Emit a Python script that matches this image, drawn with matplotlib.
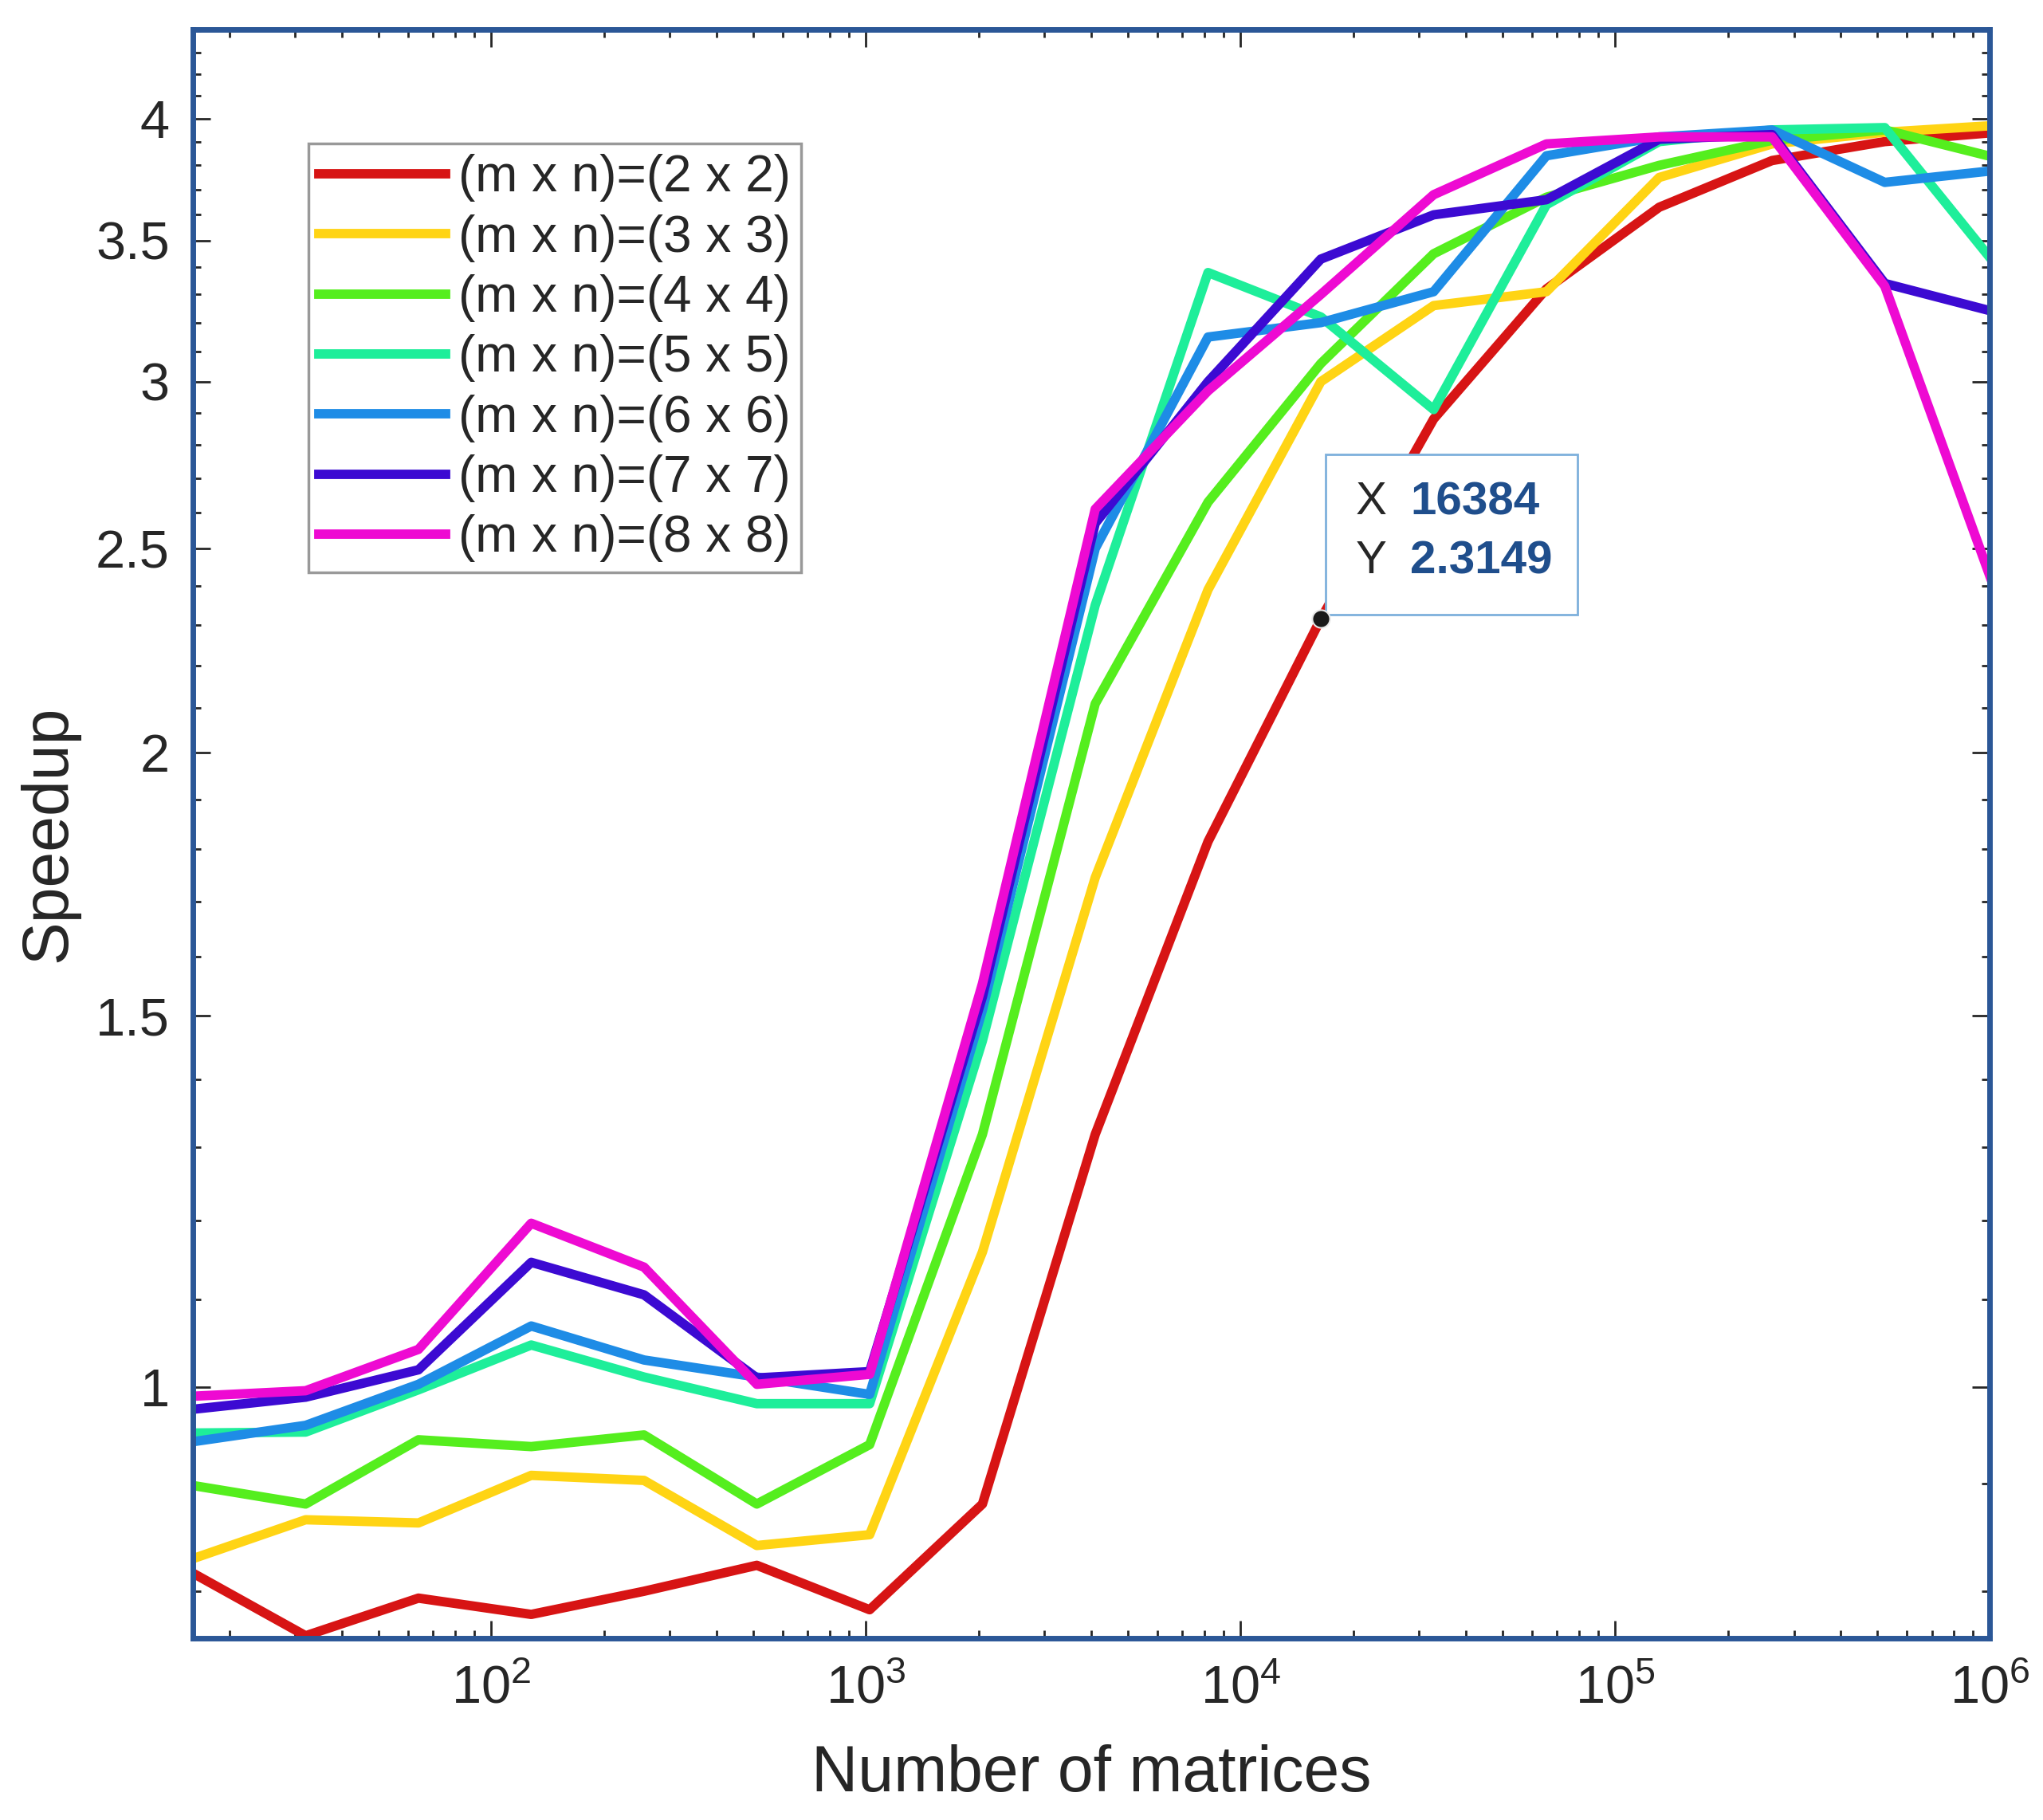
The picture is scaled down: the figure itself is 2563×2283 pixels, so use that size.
import numpy as np
import matplotlib.pyplot as plt
from matplotlib.ticker import FixedLocator, NullFormatter, LogLocator
from matplotlib.transforms import IdentityTransform
from matplotlib.patches import Rectangle

plt.rcParams['font.family'] = ['Liberation Sans', 'DejaVu Sans']
plt.rcParams['mathtext.fontset'] = 'custom'
plt.rcParams['mathtext.rm'] = 'Liberation Sans'
plt.rcParams['mathtext.default'] = 'regular'

# nombre de matrices : 2^4 ... 2^20
n_matrices = 2 ** np.arange(4, 21)

speedup_2x2 = [0.816, 0.762, 0.794, 0.780, 0.800, 0.823, 0.784, 0.880, 1.318, 1.815,
               2.3149, 2.88, 3.32, 3.63, 3.82, 3.90, 3.94]
speedup_3x3 = [0.829, 0.865, 0.862, 0.908, 0.903, 0.841, 0.851, 1.159, 1.745, 2.39,
               3.00, 3.26, 3.31, 3.75, 3.89, 3.94, 3.97]
speedup_4x4 = [0.898, 0.880, 0.944, 0.937, 0.949, 0.880, 0.939, 1.318, 2.11, 2.63,
               3.06, 3.45, 3.67, 3.80, 3.905, 3.95, 3.83]
speedup_5x5 = [0.951, 0.952, 0.997, 1.047, 1.011, 0.982, 0.982, 1.46, 2.35, 3.38,
               3.22, 2.91, 3.64, 3.90, 3.95, 3.96, 3.40]
speedup_6x6 = [0.942, 0.959, 1.003, 1.069, 1.030, 1.011, 0.992, 1.51, 2.50, 3.15,
               3.20, 3.31, 3.84, 3.92, 3.95, 3.73, 3.78]
speedup_7x7 = [0.976, 0.989, 1.019, 1.146, 1.106, 1.010, 1.017, 1.532, 2.57, 3.00,
               3.43, 3.60, 3.66, 3.91, 3.93, 3.34, 3.235]
speedup_8x8 = [0.990, 0.996, 1.042, 1.196, 1.140, 1.003, 1.014, 1.554, 2.61, 2.97,
               3.30, 3.68, 3.89, 3.92, 3.92, 3.33, 2.37]

series = [speedup_2x2, speedup_3x3, speedup_4x4, speedup_5x5,
          speedup_6x6, speedup_7x7, speedup_8x8]
labels = ['(m x n)=(%d x %d)' % (k, k) for k in range(2, 9)]
couleurs = ['#D71414', '#FFD414', '#55EE1E', '#1EEE9A', '#1E8CE6', '#3C0AD2', '#EE0AD2']

# point du datatip
tip_x = 16384
tip_y = 2.3149

y_major = [1, 1.5, 2, 2.5, 3, 3.5, 4]
y_major_labels = ['1', '1.5', '2', '2.5', '3', '3.5', '4']
y_minor = np.arange(0.8, 4.45, 0.1)

fig = plt.figure(figsize=(25.63, 22.83), dpi=100)
ax = fig.add_axes([0.0944, 0.0999, 0.8796, 0.8841])

for s, lab, c in zip(series, labels, couleurs):
    ax.plot(n_matrices, s, color=c, lw=8.5, label=lab)

ax.set_xscale('log')
ax.set_yscale('log')
ax.set_xlim(16, 1.0e6)
ax.set_ylim(0.76, 4.41)

ax.yaxis.set_major_locator(FixedLocator(y_major))
ax.set_yticklabels(y_major_labels)
ax.yaxis.set_minor_locator(FixedLocator(y_minor))
ax.yaxis.set_minor_formatter(NullFormatter())
ax.xaxis.set_major_locator(LogLocator(base=10, numticks=20))
ax.xaxis.set_minor_locator(LogLocator(base=10, subs=np.arange(2, 10), numticks=100))
ax.xaxis.set_minor_formatter(NullFormatter())

ax.tick_params(which='both', direction='in', top=True, right=True,
               colors='#262626', width=2, labelsize=48)
ax.tick_params(which='major', length=16)
ax.tick_params(which='minor', length=7)
ax.tick_params(axis='y', pad=21)
ax.tick_params(axis='x', pad=24)

for sp in ax.spines.values():
    sp.set_color('#2B5797')
    sp.set_linewidth(5)

ax.set_xlabel('Number of matrices', fontsize=58, color='#262626')
ax.set_ylabel('Speedup', fontsize=58, color='#262626')
ax.xaxis.set_label_coords(0.5, -0.085)
ax.xaxis.label.set_va('center')
ax.yaxis.set_label_coords(-0.08, 0.5)
ax.yaxis.label.set_va('center')

leg = ax.legend(loc='upper left', bbox_to_anchor=(0.0643, 0.9287), borderaxespad=0,
                fontsize=46, frameon=True, fancybox=False, handlelength=2.5,
                handletextpad=0.25, labelspacing=0.24, borderpad=0.2)
leg.get_frame().set_edgecolor('#808080')
leg.get_frame().set_linewidth(2.5)
for t in leg.get_texts():
    t.set_color('#262626')

# datatip
ax.plot(tip_x, tip_y, 'o', color='#1a1a1a', ms=16, mec='#e8e8e8', mew=1.5, zorder=6, clip_on=False)
px, py = ax.transData.transform((tip_x, tip_y))
boite = Rectangle((px + 6, py + 5), 316, 201, transform=IdentityTransform(),
                  fc='white', ec='#7DB0DC', lw=2, zorder=5, clip_on=False)
ax.add_patch(boite)
ax.text(px + 44, py + 146, 'X', transform=IdentityTransform(), fontsize=42,
        color='#262626', va='center', ha='left', zorder=7)
ax.text(px + 44, py + 72, 'Y', transform=IdentityTransform(), fontsize=42,
        color='#262626', va='center', ha='left', zorder=7)
ax.text(px + 112, py + 146, '%d' % tip_x, transform=IdentityTransform(), fontsize=42,
        color='#1F4E8C', fontweight='bold', va='center', ha='left', zorder=7)
ax.text(px + 112, py + 72, '%.4f' % tip_y, transform=IdentityTransform(), fontsize=42,
        color='#1F4E8C', fontweight='bold', va='center', ha='left', zorder=7)

fig.savefig('out.png', dpi=100, facecolor='white')
